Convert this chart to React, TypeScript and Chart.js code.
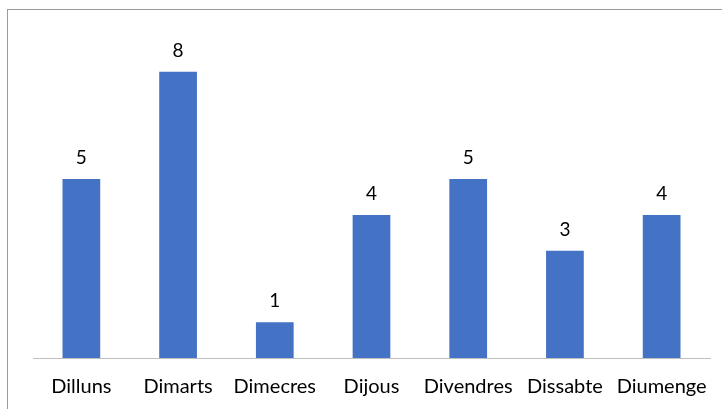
import React, { useEffect, useRef } from "react";
import { Chart, registerables } from "chart.js";

Chart.register(...registerables);

const categories = ["Dilluns", "Dimarts", "Dimecres", "Dijous", "Divendres", "Dissabte", "Diumenge"];
const values = [5, 8, 1, 4, 5, 3, 4];

const FONT = "Lato, 'Open Sans', sans-serif";

const valueLabels = {
  id: "valueLabels",
  afterDatasetsDraw(chart: any) {
    const { ctx } = chart;
    const meta = chart.getDatasetMeta(0);
    ctx.save();
    ctx.fillStyle = "#000000";
    ctx.font = `19px ${FONT}`;
    ctx.textAlign = "center";
    ctx.textBaseline = "middle";
    meta.data.forEach((bar: any, i: number) => {
      ctx.fillText(String(values[i]), bar.x, bar.y - 21);
    });
    ctx.restore();
  },
};

export default function App() {
  const ref = useRef<HTMLCanvasElement | null>(null);
  useEffect(() => {
    if (!ref.current) return;
    const chart = new Chart(ref.current, {
      type: "bar",
      data: {
        labels: categories,
        datasets: [
          {
            data: values,
            backgroundColor: "#4472C4",
            categoryPercentage: 1,
            barPercentage: 0.39,
          },
        ],
      },
      options: {
        animation: false,
        responsive: false,
        maintainAspectRatio: false,
        layout: { padding: { left: 33, right: 12, top: 36, bottom: 0 } },
        plugins: { legend: { display: false }, tooltip: { enabled: false } },
        scales: {
          y: { display: false, min: 0, max: 9 },
          x: {
            grid: { display: false, drawTicks: false },
            border: { display: true, color: "#bfbfbf", width: 1 },
            ticks: {
              color: "#000000",
              font: { family: FONT, size: 20 },
              padding: 17,
              maxRotation: 0,
              autoSkip: false,
            },
            afterFit(scale: any) {
              scale.height = 51;
              scale.paddingLeft = 0;
              scale.paddingRight = 0;
            },
          },
        },
      },
      plugins: [valueLabels],
    });
    return () => chart.destroy();
  }, []);
  return (
    <div style={{ position: "fixed", left: 0, top: 0, width: 722, height: 409, background: "#fff", overflow: "hidden" }}>
      <div
        style={{
          position: "absolute",
          left: 7,
          top: 9,
          width: 760,
          height: 460,
          borderLeft: "1.5px solid #9a9a9a",
          borderTop: "1.5px solid #9a9a9a",
        }}
      />
      <canvas ref={ref} width={722} height={409} style={{ position: "absolute", left: 0, top: 0 }} />
    </div>
  );
}
